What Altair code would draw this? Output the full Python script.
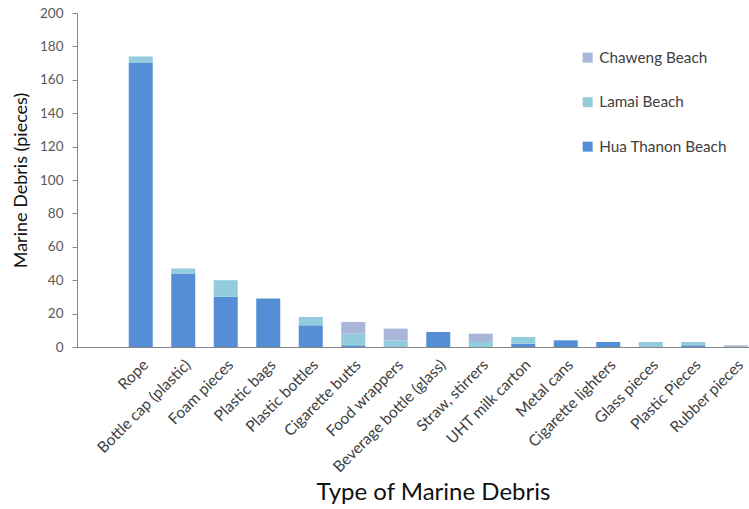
import altair as alt
import pandas as pd

categories = ["Rope", "Bottle cap (plastic)", "Foam pieces", "Plastic bags", "Plastic bottles",
              "Cigarette butts", "Food wrappers", "Beverage bottle (glass)", "Straw, stirrers",
              "UHT milk carton", "Metal cans", "Cigarette lighters", "Glass pieces",
              "Plastic Pieces", "Rubber pieces"]
hua_thanon = [170, 44, 30, 29, 13, 1, 0, 9, 0, 2, 4, 3, 0, 1, 0]
lamai = [4, 3, 10, 0, 5, 7, 4, 0, 3, 4, 0, 0, 3, 2, 0]
chaweng = [0, 0, 0, 0, 0, 7, 7, 0, 5, 0, 0, 0, 0, 0, 1]

series_names = ["Hua Thanon Beach", "Lamai Beach", "Chaweng Beach"]
series_colors = ["#558ED5", "#93CDDD", "#A9B5D9"]

rows = []
for i, c in enumerate(categories):
    for k, (name, vals) in enumerate(zip(series_names, [hua_thanon, lamai, chaweng])):
        rows.append({"cat": c, "series": name, "value": vals[i], "ord": k})
df = pd.DataFrame(rows)

FONT = "Lato"

chart = alt.Chart(df).mark_bar().encode(
    x=alt.X("cat:N",
            scale=alt.Scale(domain=[""] + categories, range=[0, 680],
                            paddingInner=0.435, paddingOuter=0.2175),
            axis=alt.Axis(title="Type of Marine Debris", labelAngle=-45, ticks=False,
                          labelFontSize=15.5, labelColor="#404040", labelFont=FONT,
                          domainColor="#868686", labelPadding=10,
                          titleFont=FONT, titleFontSize=24, titleFontWeight="normal",
                          titleColor="#111111", titleX=356, titleY=152,
                          titleBaseline="alphabetic", titleAlign="center")),
    y=alt.Y("value:Q", stack="zero",
            scale=alt.Scale(domain=[0, 200]),
            axis=alt.Axis(title="Marine Debris (pieces)", values=list(range(0, 201, 20)),
                          grid=False, tickSize=5, tickColor="#868686", domainColor="#868686",
                          labelFontSize=13.5, labelColor="#595959", labelFont=FONT, labelPadding=9,
                          titleFont=FONT, titleFontSize=18, titleFontWeight="normal",
                          titleColor="#111111", titlePadding=9)),
    color=alt.Color("series:N",
                    scale=alt.Scale(domain=series_names, range=series_colors),
                    sort=["Chaweng Beach", "Lamai Beach", "Hua Thanon Beach"],
                    legend=alt.Legend(title=None, orient="none", legendX=503, legendY=37,
                                      symbolType="square", symbolSize=100, symbolStrokeWidth=0,
                                      labelFont=FONT, labelFontSize=15.3, labelColor="#404040",
                                      rowPadding=28.5, labelOffset=4,
                                      values=["Chaweng Beach", "Lamai Beach", "Hua Thanon Beach"])),
    order=alt.Order("ord:Q", sort="ascending"),
).properties(
    width=672, height=334,
    background="white",
    autosize=alt.AutoSizeParams(type="none"),
    padding={"left": 77, "top": 13, "right": 0, "bottom": 162},
).configure_view(stroke=None)

chart.save("out.html", embed_options={"renderer": "svg", "actions": False})
